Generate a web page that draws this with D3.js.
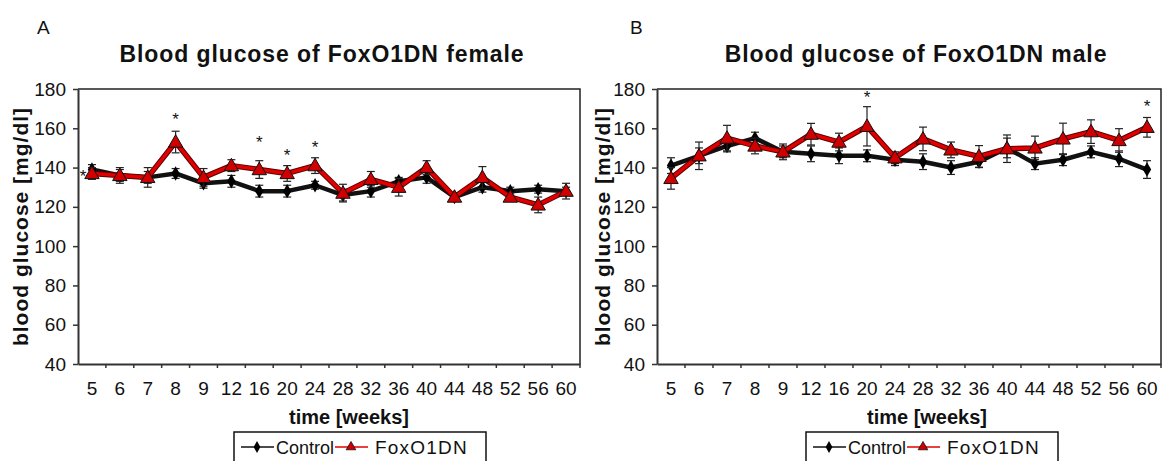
<!DOCTYPE html>
<html><head><meta charset="utf-8">
<script src="https://cdn.jsdelivr.net/npm/d3@7/dist/d3.min.js"></script>
<style>
body{margin:0;background:#fff;}
svg{display:block;font-family:Arial,"Liberation Sans",sans-serif;}
</style></head>
<body><svg id="c" width="1163" height="461"></svg>
<script>
const categories = ["5","6","7","8","9","12","16","20","24","28","32","36","40","44","48","52","56","60"];
const yTicks = [40,60,80,100,120,140,160,180];
const seriesNames = ["Control","FoxO1DN"];

const femaleControl    = [139,136,135,137,132,133,128,128,131,126,128,133,135,125,130,128,129,128];
const femaleControlErr = [2.5,3,3,2.5,2.5,3,3,3,2,3,3,2,3,2,2.5,2,2,2];
const femaleFoxo       = [137,136,135,153,135,141,139,137,141,127,134,130,140,125,135,125,121,128];
const femaleFoxoErr    = [3,4,5,5.5,4.5,3,4.5,4,4,4.5,4,4.5,3.5,2,5.5,2,4,4];
const femaleStarWeeks  = ["8","16","20","24"];
const femaleStarValues = [165.5,153.8,147.4,151.6];
const femaleSideStarWeek = "5";
const femaleSideStarValue = 137;

const maleControl    = [141,146,151,155,148,147,146,146,144,143,140,143,150,142,144,148,144.5,139];
const maleControlErr = [4,4,3,3,3,4,4,3,3,4,3.5,3,5,3,3,3,4,4.5];
const maleFoxo       = [134.5,146,155,151,148,157,153,161,145,154.6,149,145.7,149.6,150,154.6,158.3,153.8,160.5];
const maleFoxoErr    = [5.5,7,6.5,4,4,5.5,4.5,10,3,6,4,5.5,7,6,8,6,6,5];
const maleStarWeeks  = ["20","60"];
const maleStarValues = [177,172.6];

const svg = d3.select("#c");

function panel(opt){
  const {x0,x1,y0,y1,letter,letterX,title,titleX,ylabX,xtitleX,legendX,control,controlErr,foxo,foxoErr,starWeeks,starValues,sideStar} = opt;
  const x = d3.scaleBand().domain(categories).range([x0,x1]).padding(0);
  const cx = c => x(c) + x.bandwidth()/2;
  const y = d3.scaleLinear().domain([40,180]).range([y1,y0]);
  const g = svg.append("g");

  g.append("text").attr("x",letterX).attr("y",34).attr("font-size",19).attr("fill","#111").text(letter);
  g.append("text").attr("x",titleX).attr("y",62).attr("text-anchor","middle").attr("font-size",23).attr("letter-spacing",0.9)
    .attr("font-weight","bold").attr("fill","#111").text(title);

  g.append("path").attr("d",`M${x0},${y0}H${x1}V${y1}`).attr("fill","none").attr("stroke","#222").attr("stroke-width",1.5);

  const ya = g.append("g").attr("transform",`translate(${x0},0)`)
    .call(d3.axisLeft(y).tickValues(yTicks).tickSize(5).tickSizeOuter(0).tickPadding(7));
  ya.select(".domain").attr("stroke","#333").attr("stroke-width",2);
  ya.selectAll(".tick line").attr("stroke","#333").attr("stroke-width",1.5);
  ya.selectAll(".tick text").attr("font-size",19).attr("fill","#111").attr("font-family","Arial,'Liberation Sans',sans-serif");

  const xa = g.append("g").attr("transform",`translate(0,${y1})`)
    .call(d3.axisBottom(x).tickSize(0).tickSizeOuter(0).tickPadding(18));
  xa.select(".domain").attr("stroke","#333").attr("stroke-width",2);
  xa.selectAll(".tick text").attr("font-size",19).attr("fill","#111").attr("font-family","Arial,'Liberation Sans',sans-serif");
  g.selectAll("line.xb").data(categories.slice(1).concat(["__end"])).join("line").attr("class","xb")
    .attr("x1",d=>d==="__end"?x1:x(d)).attr("x2",d=>d==="__end"?x1:x(d))
    .attr("y1",y1).attr("y2",y1+4).attr("stroke","#333").attr("stroke-width",1.5);

  g.append("text").attr("transform",`translate(${ylabX},${(y0+y1)/2}) rotate(-90)`).attr("text-anchor","middle")
    .attr("font-size",21).attr("letter-spacing",1).attr("font-weight","bold").attr("fill","#111").text("blood glucose [mg/dl]");
  g.append("text").attr("x",xtitleX).attr("y",424).attr("text-anchor","middle")
    .attr("font-size",20).attr("font-weight","bold").attr("fill","#111").text("time [weeks]");

  const line = d3.line().x((d,i)=>cx(categories[i])).y(d=>y(d));

  function errbars(vals, errs){
    const eg = g.append("g").attr("stroke","#222").attr("stroke-width",1.2);
    vals.forEach((v,i)=>{
      const c = cx(categories[i]);
      eg.append("line").attr("x1",c).attr("x2",c).attr("y1",y(v-errs[i])).attr("y2",y(v+errs[i]));
      eg.append("line").attr("x1",c-4).attr("x2",c+4).attr("y1",y(v+errs[i])).attr("y2",y(v+errs[i]));
      eg.append("line").attr("x1",c-4).attr("x2",c+4).attr("y1",y(v-errs[i])).attr("y2",y(v-errs[i]));
    });
  }

  if (sideStar){
    g.append("text").attr("x",cx(sideStar.week)-9).attr("y",y(sideStar.value)+9).attr("text-anchor","middle")
      .attr("font-size",17).attr("fill","#111").text("*");
  }

  errbars(control, controlErr);
  g.append("path").datum(control).attr("d",line).attr("fill","none").attr("stroke","#111").attr("stroke-width",4.5).attr("stroke-linejoin","round");
  g.selectAll("path.dia").data(control).join("path").attr("class","dia")
    .attr("d",d3.symbol(d3.symbolDiamond,60)).attr("transform",(d,i)=>`translate(${cx(categories[i])},${y(d)})`).attr("fill","#000");

  errbars(foxo, foxoErr);
  g.append("path").datum(foxo).attr("d",line).attr("fill","none").attr("stroke","#5a0000").attr("stroke-width",5.5).attr("stroke-linejoin","round");
  g.append("path").datum(foxo).attr("d",line).attr("fill","none").attr("stroke","#e00000").attr("stroke-width",3.5).attr("stroke-linejoin","round");
  g.selectAll("path.tri").data(foxo).join("path").attr("class","tri")
    .attr("d",d3.symbol(d3.symbolTriangle,90)).attr("transform",(d,i)=>`translate(${cx(categories[i])},${y(d)+1})`)
    .attr("fill","#d00000").attr("stroke","#111").attr("stroke-width",1);

  g.selectAll("text.star").data(starWeeks).join("text").attr("class","star")
    .attr("x",d=>cx(d)).attr("y",(d,i)=>y(starValues[i])+8).attr("text-anchor","middle")
    .attr("font-size",17).attr("fill","#111").text("*");

  const lg = g.append("g").attr("transform",`translate(${legendX},432)`);
  lg.append("rect").attr("x",0).attr("y",0).attr("width",252).attr("height",40).attr("fill","#fff").attr("stroke","#111").attr("stroke-width",1.5);
  lg.append("line").attr("x1",7).attr("x2",40).attr("y1",15).attr("y2",15).attr("stroke","#111").attr("stroke-width",1.5);
  lg.append("path").attr("d",d3.symbol(d3.symbolDiamond,40)).attr("transform","translate(23,15)").attr("fill","#000");
  lg.append("text").attr("x",42).attr("y",22).attr("font-size",18).attr("fill","#111").text(seriesNames[0]);
  lg.append("line").attr("x1",101).attr("x2",134).attr("y1",15).attr("y2",15).attr("stroke","#e00000").attr("stroke-width",1.5);
  lg.append("path").attr("d",d3.symbol(d3.symbolTriangle,40)).attr("transform","translate(117,15)").attr("fill","#d00000").attr("stroke","#111").attr("stroke-width",0.8);
  lg.append("text").attr("x",141).attr("y",22).attr("font-size",19).attr("letter-spacing",1.2).attr("fill","#111").text(seriesNames[1]);
}

panel({x0:78,x1:580,y0:89,y1:364,letter:"A",letterX:37,title:"Blood glucose of FoxO1DN female",titleX:322,ylabX:28,xtitleX:349,legendX:234,
  control:femaleControl,controlErr:femaleControlErr,foxo:femaleFoxo,foxoErr:femaleFoxoErr,starWeeks:femaleStarWeeks,starValues:femaleStarValues,
  sideStar:{week:femaleSideStarWeek,value:femaleSideStarValue}});
panel({x0:657,x1:1161,y0:89,y1:364,letter:"B",letterX:630,title:"Blood glucose of FoxO1DN male",titleX:916,ylabX:610,xtitleX:927,legendX:806,
  control:maleControl,controlErr:maleControlErr,foxo:maleFoxo,foxoErr:maleFoxoErr,starWeeks:maleStarWeeks,starValues:maleStarValues,sideStar:null});
</script></body></html>
